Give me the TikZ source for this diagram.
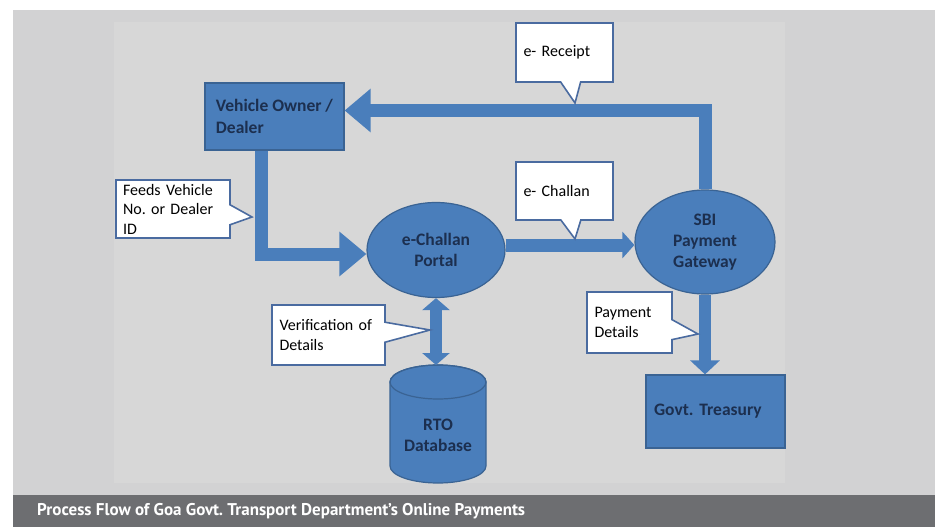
\documentclass[tikz,border=0pt]{standalone}
\usepackage{fontspec}
\setmainfont{Carlito}
\newfontfamily\capfont{PT Sans}
\frenchspacing
\usetikzlibrary{shapes.geometric,shapes.callouts,arrows.meta}
\definecolor{boxblue}{HTML}{4A7EBB}
\definecolor{boxedge}{HTML}{3A6393}
\definecolor{boxtext}{HTML}{1C2F4F}
\definecolor{calledge}{HTML}{4A6BA0}
\definecolor{panel}{HTML}{D2D2D3}
\definecolor{slide}{HTML}{D7D7D7}
\definecolor{capbar}{HTML}{6D6E71}
\tikzset{
  blockbox/.style={rectangle, draw=boxedge, line width=1.2pt, fill=boxblue, text=boxtext,
    font=\fontsize{17.5}{22}\selectfont\bfseries, align=left, inner sep=0pt},
  blockoval/.style={ellipse, draw=boxedge, line width=1.2pt, fill=boxblue, text=boxtext,
    font=\fontsize{17.5}{21}\selectfont\bfseries, align=center, inner sep=0pt},
  note/.style={rectangle callout, draw=calledge, line width=1.6pt, fill=white,
    font=\fontsize{16}{19.5}\selectfont, align=left, inner sep=0pt, callout pointer width=20pt},
  flow/.style={line width=13pt, draw=boxblue},
}
\begin{document}
\begin{tikzpicture}[x=1pt,y=-1pt]
    \useasboundingbox (0,0) rectangle (937,527);
    \fill[panel] (13,10) rectangle (935,495);
    \fill[slide] (114,22) rectangle (785,483);
    \fill[capbar] (13,495) rectangle (935,527);
    \node[anchor=west, inner sep=0pt, text=white, font=\capfont\fontsize{17}{20}\selectfont\bfseries] (caption) at (37,511)
        {Process Flow of Goa Govt. Transport Department’s Online Payments};

    \node[blockbox, minimum width=139pt, minimum height=67pt] (veh) at (274.5,116.5) {Vehicle Owner /\\Dealer};
    \node[blockoval, minimum width=138pt, minimum height=95pt] (portal) at (436,250) {e-Challan\\Portal};
    \node[blockoval, minimum width=140pt, minimum height=104pt] (sbi) at (705,242) {SBI\\Payment\\Gateway};
    \node[blockbox, minimum width=139pt, minimum height=73pt, text width=123pt] (treas) at (715.5,411.5) {Govt. Treasury};

    \filldraw[fill=boxblue, draw=boxedge, line width=1.2pt] (390,382) -- (390,466)
        arc[start angle=180, end angle=0, x radius=48, y radius=17] -- (486,382)
        arc[start angle=0, end angle=-180, x radius=48, y radius=17] -- cycle;
    \draw[boxedge, line width=1.2pt] (438,382) ellipse[x radius=48, y radius=17];
    \coordinate (rtotop) at (438,365);
    \node[text=boxtext, font=\fontsize{17.5}{21}\selectfont\bfseries, align=center, inner sep=0pt] (rto) at (438,435) {RTO\\Database};

    \draw[flow, -{Triangle[length=26pt,width=42pt]}] (sbi.north) |- ([yshift=6pt]veh.east);
    \draw[flow, -{Triangle[length=27pt,width=43pt]}] ([xshift=-13pt]veh.south) |- ([yshift=-4pt]portal.west);
    \draw[flow, -{Triangle[length=12pt,width=26pt]}] ([yshift=5pt]portal.east) -- ([yshift=-3pt]sbi.west);
    \draw[flow, line width=12pt, -{Triangle[length=14pt,width=29pt]}] (sbi.south) -- (sbi.south |- treas.north);
    \draw[flow, line width=12pt, {Triangle[length=12pt,width=27pt]}-{Triangle[length=12pt,width=27pt]}] (portal.south) -- (portal.south |- rtotop);

    \node[note, minimum width=97pt, minimum height=59pt, text width=82pt, callout absolute pointer={(575,103)}] (receipt) at (564.5,52.5) {e- Receipt};
    \node[note, minimum width=97pt, minimum height=58pt, text width=82pt, callout absolute pointer={(575,239)}] (challan) at (564.5,191) {e- Challan};
    \node[note, minimum width=114pt, minimum height=58pt, text width=100pt, callout absolute pointer={(252,217)}] (feeds) at (173,209) {Feeds Vehicle\\No. or Dealer\\ID};
    \node[note, minimum width=113pt, minimum height=60pt, text width=98pt, callout absolute pointer={(430,330)}] (verify) at (328.5,335) {Verification of\\Details};
    \node[note, minimum width=85pt, minimum height=61pt, text width=70pt, callout absolute pointer={(698,334)}] (paydet) at (629.5,322.5) {Payment\\Details};
\end{tikzpicture}
\end{document}
